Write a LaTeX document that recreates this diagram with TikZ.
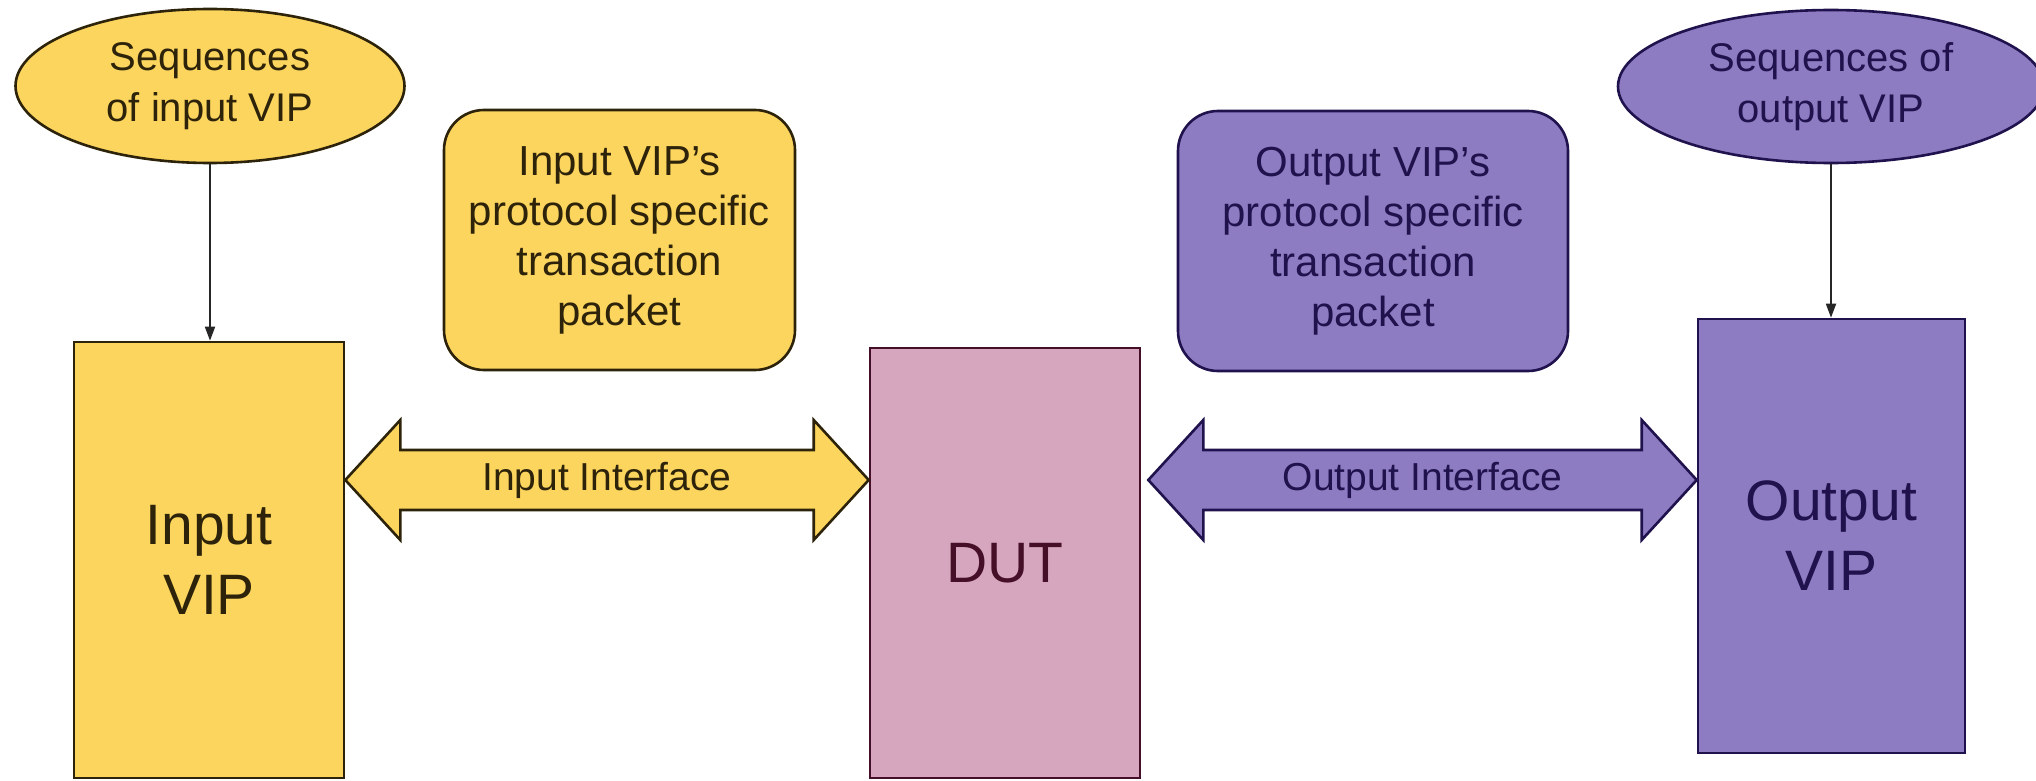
\documentclass[tikz,border=0pt]{standalone}
\usepackage{fontspec}
\setmainfont{Liberation Sans}
\usetikzlibrary{shapes.geometric,arrows.meta,calc}
\definecolor{yfill}{RGB}{252,213,94}
\definecolor{pfill}{RGB}{142,124,195}
\definecolor{mfill}{RGB}{213,166,189}
\definecolor{ytext}{RGB}{45,35,10}
\definecolor{ptext}{RGB}{32,18,77}
\definecolor{mtext}{RGB}{70,15,40}
\begin{document}
\begin{tikzpicture}[x=0.5pt,y=-0.5pt,
  box/.style={draw, line width=1.3pt, inner sep=0pt, align=center},
  ybox/.style={box, fill=yfill, draw=ytext, text=ytext},
  pbox/.style={box, fill=pfill, draw=ptext, text=ptext},
  mbox/.style={box, fill=mfill, draw=mtext, text=mtext},
  bigfont/.style={font=\fontsize{28.5}{35}\selectfont},
  midfont/.style={font=\fontsize{21}{25}\selectfont},
  ellfont/.style={font=\fontsize{20}{25.5}\selectfont},
  labfont/.style={font=\fontsize{19.5}{22}\selectfont},
  conn/.style={line width=0.9pt, draw=black!85, -{Triangle[length=7pt,width=5pt]}},
  fat/.style={line width=1.3pt, line join=miter}]
\useasboundingbox (0,0) rectangle (2036,781);
\fill[white] (0,0) rectangle (2036,781);

% nodes
\node[ybox, ellipse, ellfont, minimum width=194.5pt, minimum height=77pt] (sin) at (210,86) {Sequences\\of input VIP};
\node[ybox, rectangle, bigfont, minimum width=135pt, minimum height=218pt] (inv) at (209,560) {Input\\VIP};
\node[ybox, rectangle, rounded corners=20pt, midfont, minimum width=175.5pt, minimum height=130pt] (inpkt) at (619.5,240) {Input VIP's\\protocol specific\\transaction\\packet};
\node[mbox, rectangle, bigfont, minimum width=135pt, minimum height=215pt] (dut) at (1005,563) {DUT};
\node[pbox, rectangle, rounded corners=20pt, midfont, minimum width=195pt, minimum height=130pt] (outpkt) at (1373,241) {Output VIP's\\protocol specific\\transaction\\packet};
\node[pbox, ellipse, ellfont, minimum width=213pt, minimum height=76.5pt] (sout) at (1831,86.5) {Sequences of\\output VIP};
\node[pbox, rectangle, bigfont, minimum width=133.5pt, minimum height=217pt] (outv) at (1831.5,536) {Output\\VIP};

\coordinate (mid) at (0,480);

% connectors
\draw[conn] (sin.south) -- (sin.south |- inv.north);
\draw[conn] (sout.south) -- (sout.south |- outv.north);

% input interface
\coordinate (ia) at (inv.east |- mid);
\coordinate (ib) at (dut.west |- mid);
\draw[fat, fill=yfill, draw=ytext] let \p1=(ia), \p2=(ib) in
  (\x1,\y1) -- (\x1+27.5pt,\y1+30pt) -- (\x1+27.5pt,\y1+15pt) -- (\x2-27.5pt,\y1+15pt)
  -- (\x2-27.5pt,\y1+30pt) -- (\x2,\y1) -- (\x2-27.5pt,\y1-30pt) -- (\x2-27.5pt,\y1-15pt)
  -- (\x1+27.5pt,\y1-15pt) -- (\x1+27.5pt,\y1-30pt) -- cycle;
\node[labfont, text=ytext] (il) at ($(ia)!0.5!(ib)$) {Input Interface};

% output interface
\coordinate (oa) at ([xshift=3.5pt]dut.east |- mid);
\coordinate (ob) at (outv.west |- mid);
\draw[fat, fill=pfill, draw=ptext] let \p1=(oa), \p2=(ob) in
  (\x1,\y1) -- (\x1+27.5pt,\y1+30pt) -- (\x1+27.5pt,\y1+15pt) -- (\x2-27.5pt,\y1+15pt)
  -- (\x2-27.5pt,\y1+30pt) -- (\x2,\y1) -- (\x2-27.5pt,\y1-30pt) -- (\x2-27.5pt,\y1-15pt)
  -- (\x1+27.5pt,\y1-15pt) -- (\x1+27.5pt,\y1-30pt) -- cycle;
\node[labfont, text=ptext] (ol) at ($(oa)!0.5!(ob)$) {Output Interface};
\end{tikzpicture}
\end{document}
